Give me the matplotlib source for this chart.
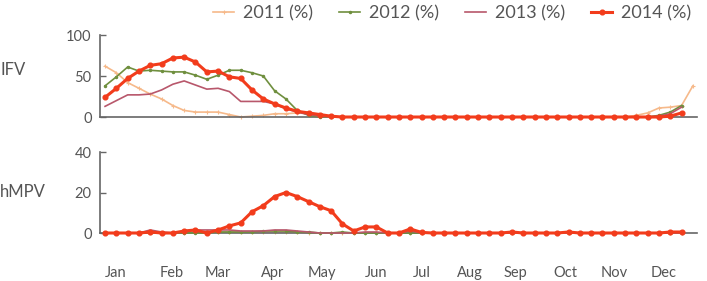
import matplotlib
matplotlib.use("Agg")
import matplotlib.pyplot as plt
import numpy as np

plt.rcParams['font.family'] = ['Lato', 'DejaVu Sans']

months = ["Jan", "Feb", "Mar", "Apr", "May", "Jun", "Jul", "Aug", "Sep", "Oct", "Nov", "Dec"]
month_pos = [0.9, 5.9, 10.0, 14.8, 19.2, 24.0, 28.0, 32.3, 36.3, 40.7, 45.0, 49.4]

# IFV (%) weekly
ifv_2011 = [62, 54, 42, 35, 28, 22, 14, 8, 6, 6, 6, 3, 0, 1, 2, 4, 4, 5, 4, 2,
            0, 0, 0, 0, 0, 0, 0, 0, 0, 0, 0, 0, 0, 0, 0, 0, 0, 0, 0, 0,
            0, 0, 0, 0, 0, 0, 0, 2, 5, 11, 12, 14, 38]
ifv_2012 = [38, 49, 61, 56, 57, 56, 55, 55, 51, 46, 51, 57, 57, 54, 50, 32, 22, 8, 2, 0,
            0, 0, 0, 0, 0, 0, 0, 0, 0, 0, 0, 0, 0, 0, 0, 0, 0, 0, 0, 0,
            0, 0, 0, 0, 0, 0, 0, 0, 0, 2, 6, 14]
ifv_2013 = [13, 20, 27, 27, 28, 33, 40, 44, 39, 34, 35, 31, 19, 19, 19, 16, 10, 6, 3, 1,
            0, 0, 0, 0, 0, 0, 0, 0, 0, 0, 0, 0, 0, 0, 0, 0, 0, 0, 0, 0,
            0, 0, 0, 0, 0, 0, 0, 0, 0, 1, 4, 12]
ifv_2014 = [24, 35, 47, 56, 63, 65, 72, 73, 67, 55, 56, 49, 47, 33, 22, 16, 11, 7, 5, 3,
            1, 0, 0, 0, 0, 0, 0, 0, 0, 0, 0, 0, 0, 0, 0, 0, 0, 0, 0, 0,
            0, 0, 0, 0, 0, 0, 0, 0, 0, 0, 1, 5]

# hMPV (%) weekly
hmpv_2011 = [0, 0, 0, 0, 0.5, 0, 0, 0, 0.5, 0.5, 0.5, 0.5, 0.5, 0.5, 0.5, 0.5, 0.5, 0.5, 0, 0,
             0, 0, 0, 0, 0, 0, 0, 0, 0, 0, 0, 0, 0, 0, 0, 0, 0, 0, 0, 0,
             0, 0, 0, 0, 0, 0, 0, 0, 0, 0, 0, 0]
hmpv_2012 = [0, 0, 0, 0, 0, 0, 0, 0, 0, 0, 0.5, 0.5, 0.5, 0.5, 1, 1, 1, 0.5, 0.5, 0,
             0, 0.5, 0, 0, 0, 0, 0, 0, 0, 0, 0, 0, 0, 0, 0, 0, 0, 0, 0, 0,
             0, 0, 0, 0, 0, 0, 0, 0, 0, 0, 0, 0]
hmpv_2013 = [0, 0, 0, 0, 1.5, 0.5, 0, 0.5, 1.5, 1.5, 1.5, 1.5, 1, 1, 1, 1.5, 1.5, 1, 0.5, 0,
             0, 0, 0, 0.5, 0.5, 0, 0, 1, 0, 0, 0, 0, 0, 0, 0, 0, 0, 0, 0, 0,
             0, 0, 0, 0, 0, 0, 0, 0, 0, 0, 0, 0]
hmpv_2014 = [0, 0, 0, 0, 0.5, 0, 0, 1, 1.5, 0, 1.5, 3.5, 5, 10.5, 13.5, 18, 20, 18, 15.5, 13,
             11, 4.5, 1, 3, 3, 0, 0, 2, 0.3, 0, 0, 0, 0, 0, 0, 0, 0.5, 0, 0, 0,
             0, 0.5, 0, 0, 0, 0, 0, 0, 0, 0, 0.5, 0.5]

labels = ["2011 (%)", "2012 (%)", "2013 (%)", "2014 (%)"]
colors = ["#f6b98a", "#6f8f3e", "#b8576b", "#f23c1c"]

fig = plt.figure(figsize=(7.07, 2.81), dpi=100)
ax1 = fig.add_axes([0.1414, 0.5836, 0.845, 0.2918])
ax2 = fig.add_axes([0.1414, 0.1708, 0.845, 0.2882])

def style(ax, ymax, yticks):
    ax.set_xlim(-0.45, 52.4)
    ax.set_ylim(0, ymax)
    ax.set_yticks(yticks)
    for s in ["top", "right"]:
        ax.spines[s].set_visible(False)
    for s in ["left", "bottom"]:
        ax.spines[s].set_color("#666666")
        ax.spines[s].set_linewidth(1.2)
    ax.tick_params(axis="y", direction="in", length=4, width=1.0, color="#666666",
                   labelsize=10.5, labelcolor="#555555", pad=6)

def plot_set(ax, series):
    handles = []
    for i, (y, lab, c) in enumerate(zip(series, labels, colors)):
        x = np.arange(len(y))
        if i == 3:
            h, = ax.plot(x, y, color=c, lw=2.2, marker="o", ms=3.4, label=lab, zorder=5, clip_on=False)
        elif i == 0:
            h, = ax.plot(x, y, color=c, lw=1.2, marker="+", ms=3.5, mew=0.8, label=lab, zorder=2, clip_on=False)
        elif i == 1:
            h, = ax.plot(x, y, color=c, lw=1.2, marker=".", ms=3.0, label=lab, zorder=3, clip_on=False)
        else:
            h, = ax.plot(x, y, color=c, lw=1.2, label=lab, zorder=4, clip_on=False)
        handles.append(h)
    return handles

handles = plot_set(ax1, [ifv_2011, ifv_2012, ifv_2013, ifv_2014])
plot_set(ax2, [hmpv_2011, hmpv_2012, hmpv_2013, hmpv_2014])

style(ax1, 100, [0, 50, 100])
style(ax2, 40, [0, 20, 40])

ax1.set_xticks([])
ax2.set_xticks(month_pos)
ax2.set_xticklabels(months)
ax2.tick_params(axis="x", length=0, pad=24, labelsize=10.5, labelcolor="#555555")

fig.text(0.0, 0.75, "IFV", fontsize=12, color="#555555", va="center", ha="left")
fig.text(0.0, 0.315, "hMPV", fontsize=12, color="#555555", va="center", ha="left")

fig.legend(handles=handles, labels=labels, loc="upper right", bbox_to_anchor=(1.0, 1.04),
           ncol=4, frameon=False, fontsize=13, labelcolor="#555555",
           handlelength=1.2, handletextpad=0.45, columnspacing=1.45)

fig.savefig("out.png", dpi=100)
